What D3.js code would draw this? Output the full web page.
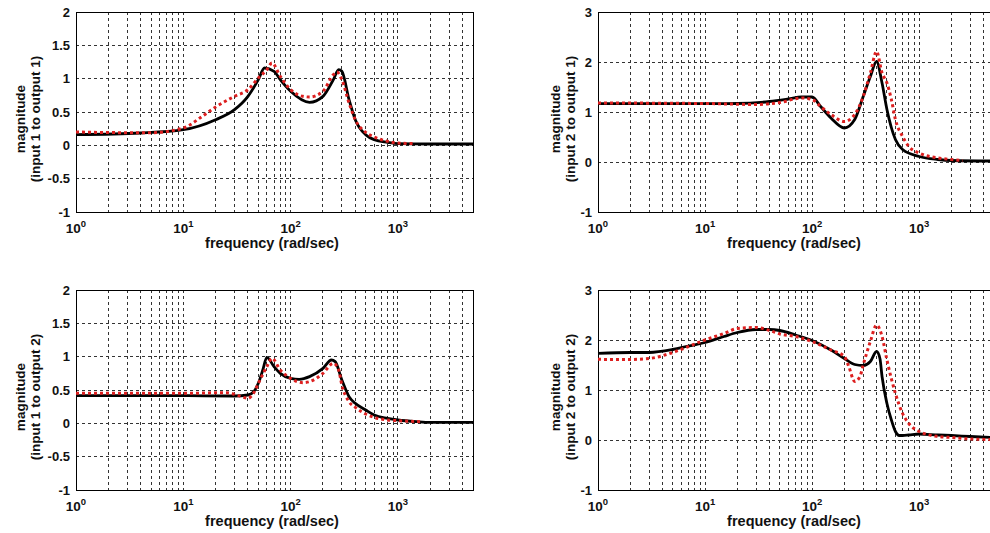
<!doctype html>
<html>
  <head>
    <style>
      body { margin: 0; background: white; }
      text { font-family: "Liberation Sans", Arial, Helvetica, sans-serif; font-weight: bold; fill: #111; }
    </style>
    <script src="https://d3js.org/d3.v7.min.js"></script>
  </head>
  <body>
    <div id="chart"></div>
    <script>
      var width = 990, height = 533;

      // --- data (frequency in rad/sec, magnitude) ---
      // panel 1: input 1 -> output 1
      var f11Solid = [1, 4, 10, 20, 30, 40, 50, 57, 70, 80, 100, 150, 200, 250, 280, 300, 350, 400, 500, 600, 800, 1000, 2000, 5000];
      var m11Solid = [0.16, 0.185, 0.235, 0.385, 0.535, 0.735, 0.985, 1.16, 1.11, 0.985, 0.81, 0.645, 0.735, 0.985, 1.135, 1.11, 0.685, 0.385, 0.16, 0.085, 0.045, 0.025, 0.02, 0.02];
      var f11Dot = [1, 3, 5, 10, 15, 20, 30, 40, 50, 60, 67, 80, 100, 130, 150, 200, 250, 270, 300, 350, 400, 500, 600, 800, 1000, 1450];
      var m11Dot = [0.2, 0.19, 0.19, 0.26, 0.435, 0.575, 0.735, 0.835, 1.01, 1.135, 1.235, 1.035, 0.835, 0.735, 0.725, 0.81, 1.06, 1.1, 0.985, 0.635, 0.385, 0.195, 0.125, 0.06, 0.035, 0.025];

      // panel 2: input 2 -> output 1
      var f21Solid = [1, 10, 20, 40, 60, 80, 100, 120, 150, 200, 250, 300, 350, 400, 450, 500, 600, 700, 1000, 1500, 2000, 5000];
      var m21Solid = [1.167, 1.167, 1.17, 1.21, 1.26, 1.3, 1.3, 1.11, 0.88, 0.68, 0.85, 1.31, 1.71, 2.01, 1.58, 1.05, 0.45, 0.25, 0.11, 0.05, 0.03, 0.02];
      var f21Dot = [1, 10, 30, 50, 80, 100, 120, 150, 200, 250, 300, 350, 400, 450, 500, 550, 600, 700, 800, 1000, 1500, 2000, 2550];
      var m21Dot = [1.18, 1.17, 1.15, 1.19, 1.28, 1.25, 1.11, 0.95, 0.81, 0.95, 1.31, 1.78, 2.21, 1.78, 1.58, 1.25, 0.85, 0.51, 0.31, 0.18, 0.08, 0.05, 0.03];

      // panel 3: input 1 -> output 2
      var f12Solid = [1, 10, 30, 40, 45, 50, 55, 60, 70, 80, 100, 120, 150, 200, 240, 260, 300, 350, 400, 500, 600, 800, 1000, 1500, 2000, 5000];
      var m12Solid = [0.415, 0.415, 0.41, 0.425, 0.47, 0.6, 0.8, 0.99, 0.85, 0.75, 0.675, 0.66, 0.7, 0.825, 0.95, 0.925, 0.65, 0.4, 0.3, 0.2, 0.125, 0.075, 0.05, 0.025, 0.015, 0.015];
      var f12Dot = [1, 10, 25, 35, 40, 45, 50, 60, 67, 80, 100, 130, 150, 200, 250, 280, 300, 350, 400, 500, 600, 800, 1000, 1640];
      var m12Dot = [0.45, 0.45, 0.46, 0.4, 0.375, 0.45, 0.6, 0.85, 0.975, 0.8, 0.675, 0.61, 0.625, 0.75, 0.9, 0.8, 0.575, 0.325, 0.24, 0.14, 0.09, 0.05, 0.04, 0.025];

      // panel 4: input 2 -> output 2
      var f22Solid = [1, 2, 3, 5, 7, 10, 15, 20, 30, 40, 50, 70, 100, 150, 200, 250, 300, 350, 400, 430, 450, 500, 550, 600, 650, 700, 800, 1000, 1500, 2000, 3000, 5000];
      var m22Solid = [1.733, 1.75, 1.75, 1.81, 1.88, 1.95, 2.07, 2.15, 2.21, 2.21, 2.19, 2.1, 1.99, 1.8, 1.63, 1.51, 1.49, 1.57, 1.77, 1.63, 1.27, 0.73, 0.4, 0.17, 0.09, 0.09, 0.1, 0.12, 0.1, 0.09, 0.07, 0.05];
      var f22Dot = [1, 2, 3, 5, 7, 10, 15, 20, 30, 40, 50, 70, 100, 150, 200, 220, 250, 280, 300, 350, 400, 450, 500, 600, 700, 800, 1000, 1500, 2000, 3000, 5000];
      var m22Dot = [1.613, 1.61, 1.63, 1.75, 1.87, 2.0, 2.13, 2.23, 2.25, 2.19, 2.12, 2.07, 1.97, 1.8, 1.67, 1.47, 1.17, 1.27, 1.5, 1.97, 2.3, 2.07, 1.6, 0.93, 0.53, 0.33, 0.17, 0.07, 0.05, 0.02, 0.01];

      var xTickLabels = [1, 10, 100, 1000];
      var yTicksLow = [-1, -0.5, 0, 0.5, 1, 1.5, 2];
      var yTicksHigh = [-1, 0, 1, 2, 3];
      var yLabels = ["(input 1 to output 1)", "(input 2 to output 1)", "(input 1 to output 2)", "(input 2 to output 2)"];

      var svg = d3.select("#chart").append("svg")
                  .attr("width", width)
                  .attr("height", height);

      var panels = [
        {left: 76, top: 12, w: 397, h: 200, ymin: -1, ymax: 2, yTicks: yTicksLow, label: yLabels[0], solid: [f11Solid, m11Solid], dot: [f11Dot, m11Dot], labX: 20},
        {left: 598, top: 12, w: 396, h: 200, ymin: -1, ymax: 3, yTicks: yTicksHigh, label: yLabels[1], solid: [f21Solid, m21Solid], dot: [f21Dot, m21Dot], labX: 555},
        {left: 76, top: 290, w: 397, h: 200, ymin: -1, ymax: 2, yTicks: yTicksLow, label: yLabels[2], solid: [f12Solid, m12Solid], dot: [f12Dot, m12Dot], labX: 20},
        {left: 598, top: 290, w: 396, h: 200, ymin: -1, ymax: 3, yTicks: yTicksHigh, label: yLabels[3], solid: [f22Solid, m22Solid], dot: [f22Dot, m22Dot], labX: 555}
      ];

      // every grid frequency: 1..9 per decade up to 5000
      var gridFreqs = [];
      [1, 10, 100, 1000].forEach(function(dec) {
        for (var k = 1; k <= 9; k++) { if (dec * k > 1 && dec * k < 5000) gridFreqs.push(dec * k); }
      });

      panels.forEach(function(p) {
        var g = svg.append("g").attr("transform", "translate(" + p.left + "," + p.top + ")");
        var x = d3.scaleLog().domain([1, 5000]).range([0, p.w]);
        var y = d3.scaleLinear().domain([p.ymin, p.ymax]).range([p.h, 0]);

        // grid
        g.selectAll(".vgrid").data(gridFreqs).enter().append("line")
         .attr("x1", function(d) { return x(d); }).attr("x2", function(d) { return x(d); })
         .attr("y1", 0).attr("y2", p.h)
         .attr("stroke", "#333").attr("stroke-width", 1).attr("stroke-dasharray", "3,3")
         .attr("shape-rendering", "crispEdges");
        g.selectAll(".hgrid").data(p.yTicks.slice(1, -1)).enter().append("line")
         .attr("x1", 0).attr("x2", p.w)
         .attr("y1", function(d) { return y(d); }).attr("y2", function(d) { return y(d); })
         .attr("stroke", "#333").attr("stroke-width", 1).attr("stroke-dasharray", "3,3")
         .attr("shape-rendering", "crispEdges");

        // frame
        g.append("rect").attr("width", p.w).attr("height", p.h)
         .attr("fill", "none").attr("stroke", "#000").attr("stroke-width", 1)
         .attr("shape-rendering", "crispEdges");

        // curves
        var line = d3.line().curve(d3.curveMonotoneX)
                     .x(function(d) { return x(d[0]); })
                     .y(function(d) { return y(d[1]); });
        var solidPts = p.solid[0].map(function(f, i) { return [f, p.solid[1][i]]; });
        var dotPts = p.dot[0].map(function(f, i) { return [f, p.dot[1][i]]; });
        g.append("path").attr("d", line(solidPts))
         .attr("fill", "none").attr("stroke", "#000").attr("stroke-width", 2.8);
        g.append("path").attr("d", line(dotPts))
         .attr("fill", "none").attr("stroke", "#dd1f1f").attr("stroke-width", 3)
         .attr("stroke-dasharray", "3,3");

        // y tick labels
        g.selectAll(".ytl").data(p.yTicks).enter().append("text")
         .attr("x", -6).attr("y", function(d) { return y(d); })
         .attr("dy", "0.35em").attr("text-anchor", "end")
         .style("font-size", "13px")
         .text(function(d) { return d; });

        // x tick labels 10^n
        var xt = g.selectAll(".xtl").data(xTickLabels).enter().append("text")
         .attr("x", function(d) { return x(d); }).attr("y", p.h + 21)
         .attr("text-anchor", "middle")
         .style("font-size", "13.5px");
        xt.append("tspan").text("10");
        xt.append("tspan").attr("dy", "-6").style("font-size", "9.5px")
          .text(function(d) { return Math.round(Math.log10(d)); });

        // x axis label
        g.append("text").attr("x", 196).attr("y", p.h + 36)
         .attr("text-anchor", "middle").style("font-size", "14.5px")
         .text("frequency (rad/sec)");

        // y axis label (two lines)
        var yl = svg.append("text")
          .attr("transform", "translate(" + p.labX + "," + (p.top + p.h / 2 + 7) + ") rotate(-90)")
          .attr("text-anchor", "middle").style("font-size", "13.5px");
        yl.append("tspan").attr("x", 0).attr("dy", "0.35em").text("magnitude");
        yl.append("tspan").attr("x", 0).attr("dy", "1.1em").text(p.label);
      });
    </script>
  </body>
</html>
